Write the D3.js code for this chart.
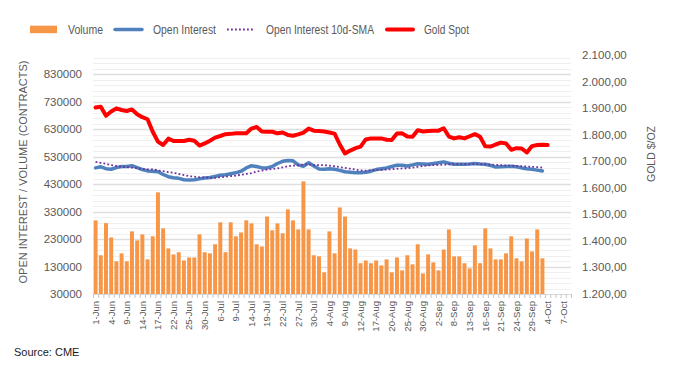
<!DOCTYPE html>
<html>
<head>
<meta charset="utf-8">
<script src="https://cdn.jsdelivr.net/npm/d3@7"></script>
<style>
  html, body { margin: 0; padding: 0; background: #ffffff; }
  svg { display: block; }
  text { font-family: "Liberation Sans", Arial, sans-serif; }
</style>
</head>
<body>
<svg id="chart" width="675" height="378"></svg>
<script>
// ---- data ----
const categories = [
  "1-Jun","2-Jun","3-Jun","4-Jun","7-Jun","8-Jun","9-Jun","10-Jun","11-Jun","14-Jun","15-Jun","16-Jun","17-Jun","18-Jun","21-Jun","22-Jun","23-Jun","24-Jun","25-Jun","28-Jun","29-Jun","30-Jun",
  "1-Jul","2-Jul","6-Jul","7-Jul","8-Jul","9-Jul","12-Jul","13-Jul","14-Jul","15-Jul","16-Jul","19-Jul","20-Jul","21-Jul","22-Jul","23-Jul","26-Jul","27-Jul","28-Jul","29-Jul","30-Jul",
  "2-Aug","3-Aug","4-Aug","5-Aug","6-Aug","9-Aug","10-Aug","11-Aug","12-Aug","13-Aug","16-Aug","17-Aug","18-Aug","19-Aug","20-Aug","23-Aug","24-Aug","25-Aug","26-Aug","27-Aug","30-Aug","31-Aug",
  "1-Sep","2-Sep","3-Sep","7-Sep","8-Sep","9-Sep","10-Sep","13-Sep","14-Sep","15-Sep","16-Sep","17-Sep","20-Sep","21-Sep","22-Sep","23-Sep","24-Sep","27-Sep","28-Sep","29-Sep","30-Sep",
  "1-Oct","4-Oct","5-Oct","6-Oct","7-Oct","8-Oct"
];

const volume = [
  298000,171000,288000,236000,149000,178000,149000,258000,225000,247000,156000,240000,400000,269000,196000,174000,182000,152000,163000,163000,247000,182000,
  178000,211000,291000,182000,291000,240000,254000,298000,287000,211000,203000,312000,262000,287000,251000,338000,298000,265000,440000,265000,171000,
  167000,109000,258000,178000,345000,312000,196000,192000,142000,152000,142000,152000,134000,156000,109000,163000,116000,171000,138000,211000,105000,174000,
  145000,116000,192000,265000,167000,167000,142000,123000,207000,142000,269000,196000,156000,156000,178000,240000,160000,149000,232000,185000,265000,
  160000
];

const openInterest = [
  489000,493000,486000,484000,490000,494000,494000,497000,490000,483000,478000,477000,475000,465000,457000,453000,451000,446000,445000,446000,449000,452000,
  454000,458000,462000,464000,468000,471000,477000,489000,497000,494000,489000,489000,494000,505000,513000,516000,515000,500000,495000,508000,496000,
  485000,484000,486000,484000,480000,475000,473000,471000,471000,473000,477000,483000,486000,489000,494000,499000,499000,496000,500000,504000,503000,502000,
  505000,508000,511000,506000,502000,502000,502000,503000,505000,503000,502000,498000,492000,493000,494000,495000,493000,489000,486000,484000,481000,
  478000
];

const openInterestSMA = [
  511000,507000,504000,499000,496000,493000,492000,490000,488000,485000,484000,484000,480000,477000,474000,471000,467000,463000,459000,457000,455000,454000,
  453000,453000,455000,457000,459000,461000,464000,467000,470000,476000,479000,483000,485000,487000,491000,495000,497000,499000,501000,502000,500000,
  499000,499000,497000,495000,492000,489000,486000,483000,480000,479000,481000,482000,482000,483000,484000,486000,487000,488000,490000,493000,496000,498000,
  499000,500000,501000,502000,503000,503000,503000,503000,503000,503000,502000,501000,500000,499000,498000,497000,496000,495000,494000,493000,492000,
  490000
];

const goldSpot = [
  1902,1905,1871,1887,1899,1893,1889,1895,1877,1866,1858,1811,1774,1761,1785,1776,1776,1776,1781,1777,1759,1767,
  1777,1789,1795,1802,1803,1805,1805,1805,1823,1829,1812,1811,1811,1805,1808,1799,1796,1801,1808,1823,1815,
  1814,1812,1808,1804,1763,1729,1740,1749,1755,1782,1786,1786,1786,1781,1780,1804,1805,1793,1792,1817,1812,1814,
  1815,1815,1824,1793,1786,1790,1786,1794,1802,1792,1756,1755,1763,1770,1767,1743,1749,1748,1733,1757,1761,
  1762,1761
];

const leftTicks = [30000,130000,230000,330000,430000,530000,630000,730000,830000];
const rightTicks = [1200,1300,1400,1500,1600,1700,1800,1900,2000,2100];
const seriesNames = ["Volume","Open Interest","Open Interest 10d-SMA","Gold Spot"];

// ---- layout ----
const svg = d3.select("#chart");
const plot = { left: 93, right: 571, top: 55, bottom: 294 };
const textColor = "#595959";

const x = d3.scaleBand().domain(categories).range([plot.left, plot.right]).padding(0);
const bw = x.bandwidth();
const cx = c => x(c) + bw / 2;
const yL = d3.scaleLinear().domain([30000, 900000]).range([plot.bottom, plot.top]);
const yR = d3.scaleLinear().domain([1200, 2100]).range([plot.bottom, plot.top]);

// minor gridlines
const minor = d3.range(50000, 900000, 20000);
svg.append("g").selectAll("line").data(minor).join("line")
  .attr("x1", plot.left).attr("x2", plot.right)
  .attr("y1", d => Math.round(yL(d)) + 0.5).attr("y2", d => Math.round(yL(d)) + 0.5)
  .attr("stroke", "#f0f0f0").attr("stroke-width", 1);
// major gridlines
svg.append("g").selectAll("line").data(leftTicks.slice(1)).join("line")
  .attr("x1", plot.left).attr("x2", plot.right)
  .attr("y1", d => Math.round(yL(d)) + 0.5).attr("y2", d => Math.round(yL(d)) + 0.5)
  .attr("stroke", "#dedede").attr("stroke-width", 1.3);

// bars
svg.append("g").selectAll("rect").data(volume).join("rect")
  .attr("x", (d, i) => x(categories[i]) + bw * 0.12)
  .attr("width", bw * 0.76)
  .attr("y", d => yL(d))
  .attr("height", d => yL(30000) - yL(d))
  .attr("fill", "#F79646");

// x axis line + ticks
svg.append("line")
  .attr("x1", plot.left).attr("x2", plot.right)
  .attr("y1", plot.bottom + 0.5).attr("y2", plot.bottom + 0.5)
  .attr("stroke", "#d9d9d9").attr("stroke-width", 1);
svg.append("g").selectAll("line").data(categories.concat([null])).join("line")
  .attr("x1", d => (d === null ? plot.right : x(d)) + 0.5)
  .attr("x2", d => (d === null ? plot.right : x(d)) + 0.5)
  .attr("y1", plot.bottom).attr("y2", plot.bottom + 4)
  .attr("stroke", "#c8c8c8").attr("stroke-width", 1);

// x labels
svg.append("g").selectAll("text")
  .data(categories.filter((c, i) => i % 3 === 0)).join("text")
  .attr("transform", d => `translate(${cx(d)},${plot.bottom + 7}) rotate(-90)`)
  .attr("text-anchor", "end").attr("dy", "0.35em")
  .attr("font-size", 9.5).attr("fill", textColor)
  .text(d => d);

// lines
const lineL = d3.line().x((d, i) => cx(categories[i])).y(d => yL(d));
const lineR = d3.line().x((d, i) => cx(categories[i])).y(d => yR(d));

svg.append("path").datum(openInterest).attr("d", lineL)
  .attr("fill", "none").attr("stroke", "#4F81BD").attr("stroke-width", 3.5)
  .attr("stroke-linejoin", "round").attr("stroke-linecap", "round");
svg.append("path").datum(openInterestSMA).attr("d", lineL)
  .attr("fill", "none").attr("stroke", "#7030A0").attr("stroke-width", 1.8)
  .attr("stroke-dasharray", "1.8,2.2");
svg.append("path").datum(goldSpot).attr("d", lineR)
  .attr("fill", "none").attr("stroke", "#FF0000").attr("stroke-width", 4)
  .attr("stroke-linejoin", "round").attr("stroke-linecap", "round");

// left axis labels
svg.append("g").selectAll("text").data(leftTicks).join("text")
  .attr("x", 82).attr("y", d => yL(d)).attr("dy", "0.35em")
  .attr("text-anchor", "end").attr("font-size", 11.5).attr("fill", textColor)
  .text(d => d3.format("d")(d));

// right axis labels
const loc = d3.formatLocale({ decimal: ",", thousands: ".", grouping: [3], currency: ["", ""] });
const fmtR = loc.format(",.2f");
svg.append("g").selectAll("text").data(rightTicks).join("text")
  .attr("x", 582).attr("y", d => yR(d)).attr("dy", "0.35em")
  .attr("text-anchor", "start").attr("font-size", 11.5).attr("fill", textColor)
  .text(d => fmtR(d));

// axis titles
svg.append("text")
  .attr("transform", "translate(23,172) rotate(-90)")
  .attr("text-anchor", "middle").attr("dy", "0.35em")
  .attr("font-size", 11).attr("fill", textColor)
  .text("OPEN INTEREST / VOLUME (CONTRACTS)");
svg.append("text")
  .attr("transform", "translate(651,154) rotate(-90)")
  .attr("text-anchor", "middle").attr("dy", "0.35em")
  .attr("font-size", 10.5).attr("fill", textColor)
  .text("GOLD $/OZ");

// legend
const lg = svg.append("g");
const ly = 29.5;
lg.append("rect").attr("x", 30).attr("y", ly - 3.8).attr("width", 27).attr("height", 7.5).attr("fill", "#F79646");
lg.append("line").attr("x1", 115).attr("x2", 142).attr("y1", ly).attr("y2", ly)
  .attr("stroke", "#4F81BD").attr("stroke-width", 3.5).attr("stroke-linecap", "round");
lg.append("line").attr("x1", 227).attr("x2", 255).attr("y1", ly).attr("y2", ly)
  .attr("stroke", "#7030A0").attr("stroke-width", 1.8).attr("stroke-dasharray", "1.8,2.2");
lg.append("line").attr("x1", 387).attr("x2", 413).attr("y1", ly).attr("y2", ly)
  .attr("stroke", "#FF0000").attr("stroke-width", 4).attr("stroke-linecap", "round");
const legendX = [68, 153, 266, 424];
const legendW = [35, 63, 108, 45];
lg.selectAll("text.lab").data(seriesNames).join("text")
  .attr("class", "lab")
  .attr("x", (d, i) => legendX[i]).attr("y", ly).attr("dy", "0.36em")
  .attr("font-size", 12).attr("fill", textColor)
  .attr("textLength", (d, i) => legendW[i]).attr("lengthAdjust", "spacingAndGlyphs")
  .text(d => d);

// source
svg.append("text").attr("x", 14).attr("y", 352).attr("dy", "0.35em")
  .attr("font-size", 11).attr("fill", "#1a1a1a")
  .text("Source: CME");
</script>
</body>
</html>
